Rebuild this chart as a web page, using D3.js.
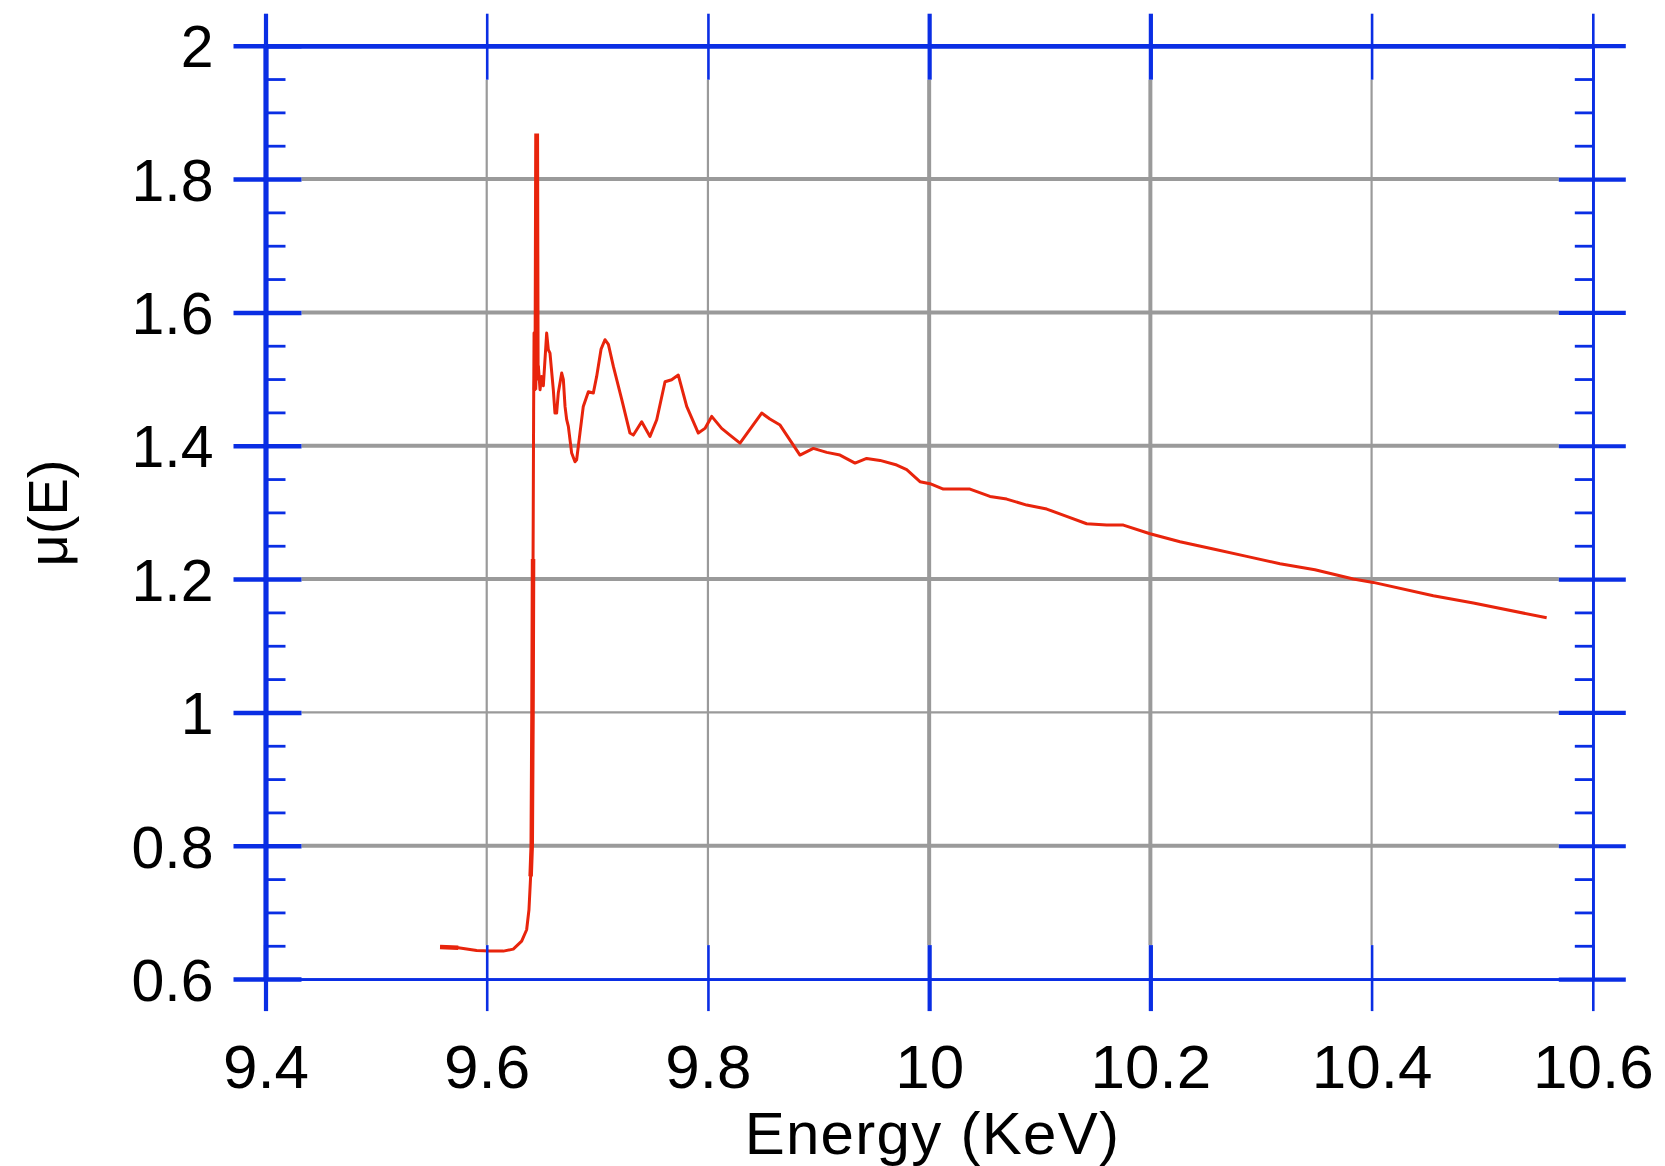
<!DOCTYPE html>
<html><head><meta charset="utf-8">
<script src="https://cdn.jsdelivr.net/npm/d3@7"></script>
<style>html,body{margin:0;padding:0;background:#fff}svg{display:block}</style>
</head><body>
<script>
// ---- data ----
const energy = [
  9.5578, 9.5743, 9.5909, 9.6030, 9.6150, 9.6240, 9.6316, 9.6361, 9.6382, 9.6397,
  9.6407, 9.6414, 9.6419, 9.6424, 9.6428, 9.6436, 9.6444, 9.6450, 9.6453, 9.6458,
  9.6467, 9.6482, 9.6497, 9.6512, 9.6542, 9.6557, 9.6572, 9.6602, 9.6617, 9.6632,
  9.6647, 9.6678, 9.6693, 9.6708, 9.6723, 9.6738, 9.6768, 9.6798, 9.6813, 9.6843,
  9.6873, 9.6919, 9.6964, 9.6994, 9.7034, 9.7069, 9.7100, 9.7145, 9.7220, 9.7295,
  9.7326, 9.7401, 9.7476, 9.7537, 9.7612, 9.7672, 9.7732, 9.7808, 9.7913, 9.7973,
  9.8034, 9.8124, 9.8199, 9.8290, 9.8486, 9.8560, 9.8652, 9.8712, 9.8832, 9.8953,
  9.9074, 9.9194, 9.9330, 9.9435, 9.9556, 9.9707, 9.9797, 9.9917, 10.0008, 10.0128,
  10.0249, 10.0369, 10.0550, 10.0701, 10.0882, 10.1063, 10.1243, 10.1424, 10.1605, 10.1756,
  10.1997, 10.2268, 10.2569, 10.2871, 10.3172, 10.3488, 10.3835, 10.4015, 10.4558, 10.4920,
  10.5583
];
const mu = [
  0.648, 0.647, 0.643, 0.642, 0.642, 0.645, 0.657, 0.674, 0.704, 0.754,
  0.800, 1.000, 1.230, 1.450, 1.569, 1.484, 1.530, 1.865, 1.865, 1.500,
  1.519, 1.484, 1.504, 1.490, 1.569, 1.544, 1.539, 1.484, 1.449, 1.449,
  1.479, 1.509, 1.499, 1.459, 1.439, 1.429, 1.389, 1.376, 1.379, 1.419,
  1.459, 1.481, 1.479, 1.504, 1.545, 1.559, 1.552, 1.519, 1.470, 1.419,
  1.416, 1.436, 1.414, 1.439, 1.496, 1.499, 1.506, 1.459, 1.419, 1.426,
  1.444, 1.426, 1.416, 1.404, 1.449, 1.440, 1.431, 1.416, 1.386, 1.396,
  1.390, 1.386, 1.374, 1.381, 1.378, 1.371, 1.364, 1.346, 1.343, 1.335,
  1.335, 1.335, 1.324, 1.320, 1.311, 1.305, 1.294, 1.283, 1.281, 1.281,
  1.268, 1.256, 1.245, 1.234, 1.223, 1.214, 1.200, 1.195, 1.175, 1.164,
  1.142
];
const xTicks = [9.4, 9.6, 9.8, 10, 10.2, 10.4, 10.6];
const xTickLabels = ["9.4", "9.6", "9.8", "10", "10.2", "10.4", "10.6"];
const yTicks = [0.6, 0.8, 1, 1.2, 1.4, 1.6, 1.8, 2];
const yTickLabels = ["0.6", "0.8", "1", "1.2", "1.4", "1.6", "1.8", "2"];
const xTitle = "Energy (KeV)";
const yTitle = "μ(E)";

// ---- layout / style ----
(function () {
const W = 1665, H = 1166;
const BLUE = "#0a2ee4", GRID = "#9a9a9a", RED = "#e8240c";
const FONT = "'Liberation Sans', Arial, Helvetica, sans-serif";
const thickX = new Set([10, 10.2]);           // rendering weight in the original
const thinY = new Set([1]);

const x = d3.scaleLinear().domain([9.4, 10.6]).range([265.5, 1592.8]);
const y = d3.scaleLinear().domain([0.6, 2]).range([979.1, 45.7]);
const yMinor = y.ticks(28).filter(v => !yTicks.some(t => Math.abs(t - v) < 1e-9));

const svg = d3.select("body").append("svg").attr("width", W).attr("height", H);
svg.append("rect").attr("width", W).attr("height", H).attr("fill", "#fff");

// gridlines
const g = svg.append("g");
g.selectAll(".vg").data(xTicks.slice(1, -1)).join("line")
  .attr("x1", d => x(d)).attr("x2", d => x(d))
  .attr("y1", y(2) + 34).attr("y2", y(0.6) - 34)
  .attr("stroke", GRID).attr("stroke-width", d => thickX.has(d) ? 4 : 2.2);
g.selectAll(".hg").data(yTicks.slice(1, -1)).join("line")
  .attr("y1", d => y(d)).attr("y2", d => y(d))
  .attr("x1", x(9.4) + 36).attr("x2", x(10.6) - 34)
  .attr("stroke", GRID).attr("stroke-width", d => thinY.has(d) ? 2.2 : 4);

// data line
const pts = energy.map((e, i) => [e, mu[i]]);
const line = d3.line().x(d => x(d[0])).y(d => y(d[1]));
svg.append("path").datum(pts)
  .attr("fill", "none").attr("stroke", RED).attr("stroke-width", 3)
  .attr("stroke-linejoin", "round")
  .attr("d", line);
// heavier rendering of the edge jump and the glitch spike, as in the original
[[0, 2], [9, 13], [15, 20]].forEach(([a, b]) => {
  svg.append("path").datum(pts.slice(a, b))
    .attr("fill", "none").attr("stroke", RED).attr("stroke-width", 4.5)
    .attr("d", line);
});

function styleAxis(sel, domainW, tickW) {
  sel.select(".domain").attr("stroke", BLUE).attr("stroke-width", domainW);
  sel.selectAll(".tick line").attr("stroke", BLUE)
    .attr("stroke-width", typeof tickW === "function" ? tickW : () => tickW);
  sel.selectAll(".tick text").attr("fill", "#000").attr("font-family", FONT);
}
const xTickW = d => thickX.has(d) || d === 9.4 ? 4.2 : 2.6;

// left axis (outer with labels, inner, minor)
const leftOut = svg.append("g").attr("transform", `translate(${x(9.4)},0)`);
leftOut.call(d3.axisLeft(y).tickValues(yTicks).tickSizeInner(32).tickSizeOuter(0).tickPadding(20)
  .tickFormat((d, i) => yTickLabels[i]));
styleAxis(leftOut, 4.5, 4.5);
leftOut.selectAll(".tick text").attr("font-size", 59).attr("dy", "0.36em").attr("dx", 0);
const leftIn = svg.append("g").attr("transform", `translate(${x(9.4)},0)`);
leftIn.call(d3.axisRight(y).tickValues(yTicks).tickSizeInner(36).tickSizeOuter(0).tickFormat(""));
styleAxis(leftIn, 4.5, 4.5);
const leftMinor = svg.append("g").attr("transform", `translate(${x(9.4)},0)`);
leftMinor.call(d3.axisRight(y).tickValues(yMinor).tickSizeInner(20).tickSizeOuter(0).tickFormat(""));
styleAxis(leftMinor, 4.5, 2.8);

// right axis
const rightOut = svg.append("g").attr("transform", `translate(${x(10.6)},0)`);
rightOut.call(d3.axisRight(y).tickValues(yTicks).tickSizeInner(33).tickSizeOuter(0).tickFormat(""));
styleAxis(rightOut, 2.6, 4.2);
const rightIn = svg.append("g").attr("transform", `translate(${x(10.6)},0)`);
rightIn.call(d3.axisLeft(y).tickValues(yTicks).tickSizeInner(34).tickSizeOuter(0).tickFormat(""));
styleAxis(rightIn, 2.6, 4.2);
const rightMinor = svg.append("g").attr("transform", `translate(${x(10.6)},0)`);
rightMinor.call(d3.axisLeft(y).tickValues(yMinor).tickSizeInner(18).tickSizeOuter(0).tickFormat(""));
styleAxis(rightMinor, 2.6, 2.8);

// bottom axis
const bottomOut = svg.append("g").attr("transform", `translate(0,${y(0.6)})`);
bottomOut.call(d3.axisBottom(x).tickValues(xTicks).tickSizeInner(32).tickSizeOuter(0).tickPadding(33)
  .tickFormat((d, i) => xTickLabels[i]));
styleAxis(bottomOut, 2.6, xTickW);
bottomOut.selectAll(".tick text").attr("font-size", 62);
const bottomIn = svg.append("g").attr("transform", `translate(0,${y(0.6)})`);
bottomIn.call(d3.axisTop(x).tickValues(xTicks).tickSizeInner(34).tickSizeOuter(0).tickFormat(""));
styleAxis(bottomIn, 2.6, xTickW);

// top axis
const topOut = svg.append("g").attr("transform", `translate(0,${y(2)})`);
topOut.call(d3.axisTop(x).tickValues(xTicks).tickSizeInner(32).tickSizeOuter(0).tickFormat(""));
styleAxis(topOut, 4.5, xTickW);
const topIn = svg.append("g").attr("transform", `translate(0,${y(2)})`);
topIn.call(d3.axisBottom(x).tickValues(xTicks).tickSizeInner(34).tickSizeOuter(0).tickFormat(""));
styleAxis(topIn, 4.5, xTickW);

// titles
svg.append("text").text(xTitle)
  .attr("x", 932.5).attr("y", 1153.5).attr("text-anchor", "middle")
  .attr("font-family", FONT).attr("font-size", 60).attr("letter-spacing", 1.3).attr("fill", "#000");
svg.append("text").text(yTitle)
  .attr("transform", "translate(67,513) rotate(-90)").attr("text-anchor", "middle")
  .attr("font-family", FONT).attr("font-size", 56).attr("fill", "#000");
})();
</script>
</body></html>
